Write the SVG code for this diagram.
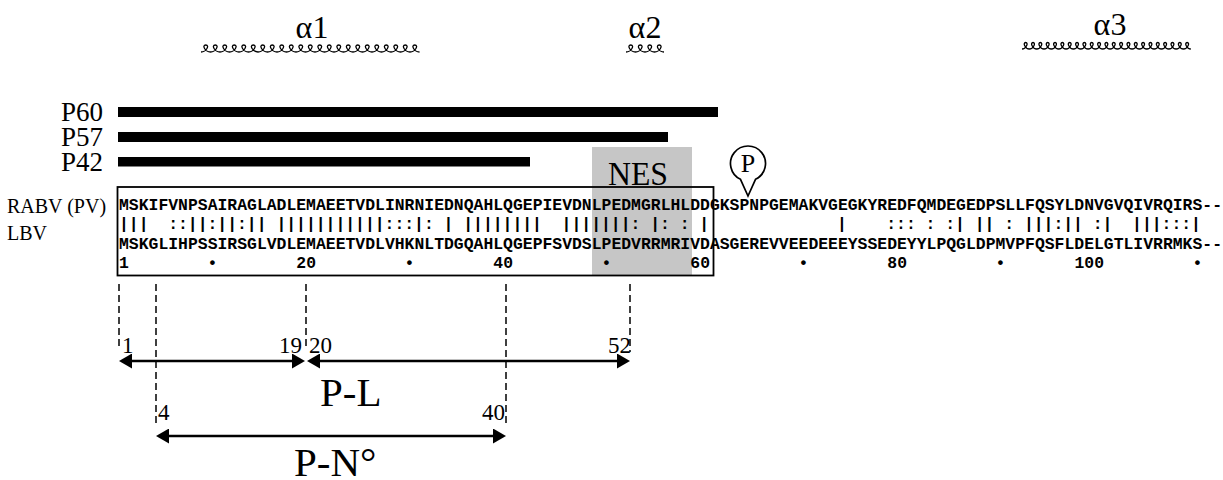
<svg xmlns="http://www.w3.org/2000/svg" width="1223" height="480" viewBox="0 0 1223 480">
<style>
.serif{font-family:"Liberation Serif","Times New Roman",serif;fill:#000}
.mono{font-family:"Liberation Mono","Courier New",monospace;font-weight:bold;font-size:16.4px;fill:#000;white-space:pre}
.helix{fill:none;stroke:#000;stroke-width:1.3}
.bar{fill:#000}
.dash{stroke:#000;stroke-width:1.5;stroke-dasharray:7 4;fill:none}
.arrow{stroke:#000;stroke-width:2.6;fill:none;marker-start:url(#ah);marker-end:url(#ah)}
</style>
<defs>
<marker id="ah" viewBox="0 0 13 15" markerWidth="13" markerHeight="15" refX="9" refY="7.5" orient="auto-start-reverse" markerUnits="userSpaceOnUse">
<path d="M0,0 L13,7.5 L0,15 Z" fill="#000"/>
</marker>
</defs>
<rect width="1223" height="480" fill="#fff"/>

<g id="helix-a1">
<text class="serif" x="312" y="38" font-size="32" text-anchor="middle">α1</text>
<path class="helix" d="M201 52 c5.23,0 9.03,-7 4.75,-7 c-4.28,0 -0.48,7 4.75,7 c5.23,0 9.03,-7 4.75,-7 c-4.28,0 -0.48,7 4.75,7 c5.23,0 9.03,-7 4.75,-7 c-4.28,0 -0.48,7 4.75,7 c5.23,0 9.03,-7 4.75,-7 c-4.28,0 -0.48,7 4.75,7 c5.23,0 9.03,-7 4.75,-7 c-4.28,0 -0.48,7 4.75,7 c5.23,0 9.03,-7 4.75,-7 c-4.28,0 -0.48,7 4.75,7 c5.23,0 9.03,-7 4.75,-7 c-4.28,0 -0.48,7 4.75,7 c5.23,0 9.03,-7 4.75,-7 c-4.28,0 -0.48,7 4.75,7 c5.23,0 9.03,-7 4.75,-7 c-4.28,0 -0.48,7 4.75,7 c5.23,0 9.03,-7 4.75,-7 c-4.28,0 -0.48,7 4.75,7 c5.23,0 9.03,-7 4.75,-7 c-4.28,0 -0.48,7 4.75,7 c5.23,0 9.03,-7 4.75,-7 c-4.28,0 -0.48,7 4.75,7 c5.23,0 9.03,-7 4.75,-7 c-4.28,0 -0.48,7 4.75,7 c5.23,0 9.03,-7 4.75,-7 c-4.28,0 -0.48,7 4.75,7 c5.23,0 9.03,-7 4.75,-7 c-4.28,0 -0.48,7 4.75,7 c5.23,0 9.03,-7 4.75,-7 c-4.28,0 -0.48,7 4.75,7 c5.23,0 9.03,-7 4.75,-7 c-4.28,0 -0.48,7 4.75,7 c5.23,0 9.03,-7 4.75,-7 c-4.28,0 -0.48,7 4.75,7 c5.23,0 9.03,-7 4.75,-7 c-4.28,0 -0.48,7 4.75,7 c5.23,0 9.03,-7 4.75,-7 c-4.28,0 -0.48,7 4.75,7 c5.23,0 9.03,-7 4.75,-7 c-4.28,0 -0.48,7 4.75,7 c5.23,0 9.03,-7 4.75,-7 c-4.28,0 -0.48,7 4.75,7 c5.23,0 9.03,-7 4.75,-7 c-4.28,0 -0.48,7 4.75,7"/>
</g>
<g id="helix-a2">
<text class="serif" x="645" y="38" font-size="32" text-anchor="middle">α2</text>
<path class="helix" d="M626 52 c5.23,0 9.03,-7 4.75,-7 c-4.28,0 -0.48,7 4.75,7 c5.23,0 9.03,-7 4.75,-7 c-4.28,0 -0.48,7 4.75,7 c5.23,0 9.03,-7 4.75,-7 c-4.28,0 -0.48,7 4.75,7 c5.23,0 9.03,-7 4.75,-7 c-4.28,0 -0.48,7 4.75,7"/>
</g>
<g id="helix-a3">
<text class="serif" x="1110" y="35" font-size="32" text-anchor="middle">α3</text>
<path class="helix" d="M1022 49 c4.03,0 6.96,-6.5 3.67,-6.5 c-3.3,0 -0.37,6.5 3.67,6.5 c4.03,0 6.96,-6.5 3.67,-6.5 c-3.3,0 -0.37,6.5 3.67,6.5 c4.03,0 6.96,-6.5 3.67,-6.5 c-3.3,0 -0.37,6.5 3.67,6.5 c4.03,0 6.96,-6.5 3.67,-6.5 c-3.3,0 -0.37,6.5 3.67,6.5 c4.03,0 6.96,-6.5 3.67,-6.5 c-3.3,0 -0.37,6.5 3.67,6.5 c4.03,0 6.96,-6.5 3.67,-6.5 c-3.3,0 -0.37,6.5 3.67,6.5 c4.03,0 6.96,-6.5 3.67,-6.5 c-3.3,0 -0.37,6.5 3.67,6.5 c4.03,0 6.96,-6.5 3.67,-6.5 c-3.3,0 -0.37,6.5 3.67,6.5 c4.03,0 6.96,-6.5 3.67,-6.5 c-3.3,0 -0.37,6.5 3.67,6.5 c4.03,0 6.96,-6.5 3.67,-6.5 c-3.3,0 -0.37,6.5 3.67,6.5 c4.03,0 6.96,-6.5 3.67,-6.5 c-3.3,0 -0.37,6.5 3.67,6.5 c4.03,0 6.96,-6.5 3.67,-6.5 c-3.3,0 -0.37,6.5 3.67,6.5 c4.03,0 6.96,-6.5 3.67,-6.5 c-3.3,0 -0.37,6.5 3.67,6.5 c4.03,0 6.96,-6.5 3.67,-6.5 c-3.3,0 -0.37,6.5 3.67,6.5 c4.03,0 6.96,-6.5 3.67,-6.5 c-3.3,0 -0.37,6.5 3.67,6.5 c4.03,0 6.96,-6.5 3.67,-6.5 c-3.3,0 -0.37,6.5 3.67,6.5 c4.03,0 6.96,-6.5 3.67,-6.5 c-3.3,0 -0.37,6.5 3.67,6.5 c4.03,0 6.96,-6.5 3.67,-6.5 c-3.3,0 -0.37,6.5 3.67,6.5 c4.03,0 6.96,-6.5 3.67,-6.5 c-3.3,0 -0.37,6.5 3.67,6.5 c4.03,0 6.96,-6.5 3.67,-6.5 c-3.3,0 -0.37,6.5 3.67,6.5 c4.03,0 6.96,-6.5 3.67,-6.5 c-3.3,0 -0.37,6.5 3.67,6.5 c4.03,0 6.96,-6.5 3.67,-6.5 c-3.3,0 -0.37,6.5 3.67,6.5 c4.03,0 6.96,-6.5 3.67,-6.5 c-3.3,0 -0.37,6.5 3.67,6.5"/>
</g>

<g id="fragments">
<g id="p60"><text class="serif" x="103" y="121" font-size="27" text-anchor="end">P60</text><rect class="bar" x="118" y="107" width="600" height="10"/></g>
<g id="p57"><text class="serif" x="103" y="146" font-size="27" text-anchor="end">P57</text><rect class="bar" x="118" y="132" width="550" height="10"/></g>
<g id="p42"><text class="serif" x="103" y="171" font-size="27" text-anchor="end">P42</text><rect class="bar" x="118" y="157" width="412" height="9.5"/></g>
</g>

<g id="nes">
<rect x="592" y="147" width="100" height="128.5" fill="#c6c6c6"/>
<text class="serif" x="608" y="185" font-size="34" textLength="60" lengthAdjust="spacingAndGlyphs">NES</text>
</g>

<g id="phospho">
<path d="M740.5 179.3 A17.5 17.5 0 1 1 755.5 179.3 L748 196 Z" fill="#fff" stroke="#000" stroke-width="1.7" stroke-linejoin="miter"/>
<text class="serif" x="748" y="172" font-size="26" text-anchor="middle">P</text>
</g>

<g id="alignment">
<rect x="117.5" y="187" width="596" height="88.5" fill="none" stroke="#000" stroke-width="1.8"/>
<text class="serif" x="7" y="213" font-size="20">RABV (PV)</text>
<text class="serif" x="7" y="240" font-size="20">LBV</text>
<text class="mono" x="119" y="210" textLength="1103" lengthAdjust="spacing" xml:space="preserve">MSKIFVNPSAIRAGLADLEMAEETVDLINRNIEDNQAHLQGEPIEVDNLPEDMGRLHLDDGKSPNPGEMAKVGEGKYREDFQMDEGEDPSLLFQSYLDNVGVQIVRQIRS--</text>
<text class="mono" x="119" y="228.5" xml:space="preserve">|||  ::||:||:|| |||||||||||:::|: | ||||||||  |||||||: |: : |             |    ::: : :| || : |||:|| :|  |||:::|</text>
<text class="mono" x="119" y="249" textLength="1103" lengthAdjust="spacing" xml:space="preserve">MSKGLIHPSSIRSGLVDLEMAEETVDLVHKNLTDGQAHLQGEPFSVDSLPEDVRRMRIVDASGEREVVEEDEEEYSSEDEYYLPQGLDPMVPFQSFLDELGTLIVRRMKS--</text>
<g class="mono">
<text x="119" y="268">1</text>
<text x="207.6" y="268">•</text>
<text x="296.3" y="268">20</text>
<text x="404.6" y="268">•</text>
<text x="493.3" y="268">40</text>
<text x="601.6" y="268">•</text>
<text x="690.3" y="268">60</text>
<text x="798.6" y="268">•</text>
<text x="887.3" y="268">80</text>
<text x="995.6" y="268">•</text>
<text x="1074.5" y="268">100</text>
<text x="1192.6" y="268">•</text>
</g>
</g>

<g id="connectors">
<line class="dash" x1="119" y1="284" x2="119" y2="346"/>
<line class="dash" x1="156" y1="284" x2="156" y2="425"/>
<line class="dash" x1="306" y1="284" x2="306" y2="347"/>
<line class="dash" x1="506" y1="284" x2="506" y2="424"/>
<line class="dash" x1="630" y1="284" x2="630" y2="352"/>
<line class="arrow" x1="123" y1="361" x2="301" y2="361"/>
<line class="arrow" x1="311" y1="361" x2="626" y2="361"/>
<line class="arrow" x1="160" y1="436" x2="502" y2="436"/>
</g>

<g id="range-labels" class="serif" font-size="23">
<text x="122" y="353">1</text>
<text x="302" y="353" text-anchor="end">19</text>
<text x="309" y="353">20</text>
<text x="631" y="353" text-anchor="end">52</text>
<text x="158" y="420">4</text>
<text x="505" y="420" text-anchor="end">40</text>
</g>
<g id="domain-pl"><text class="serif" x="320" y="406" font-size="41">P-L</text></g>
<g id="domain-pn"><text class="serif" x="294" y="476" font-size="41">P-N°</text></g>
</svg>
